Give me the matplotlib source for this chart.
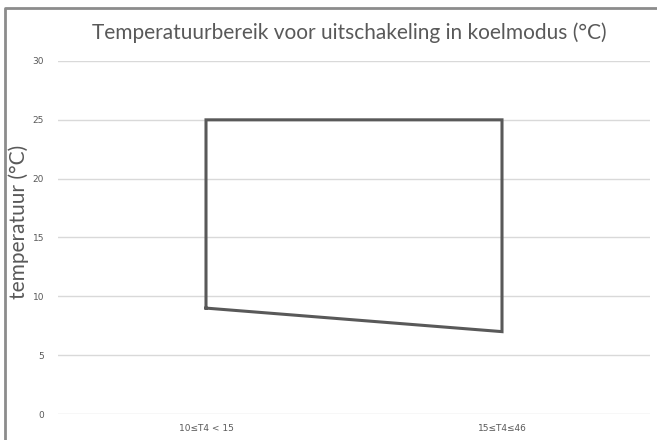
import matplotlib.pyplot as plt
from matplotlib.lines import Line2D

categories = ["10≤T4 < 15", "15≤T4≤46"]
upper = [25, 25]
lower = [9, 7]
yticks = [0, 5, 10, 15, 20, 25, 30]

fig = plt.figure(figsize=(6.57, 4.40), dpi=100)
ax = fig.add_axes([58 / 657, 1 - 414 / 440, 592 / 657, 353 / 440])

# closed outline: up the left category, across the top, down, back along the bottom
xs = [0, 0, 1, 1, 0]
ys = [lower[0], upper[0], upper[1], lower[1], lower[0]]
ax.plot(xs, ys, color="#595959", lw=2.2, solid_joinstyle="miter", zorder=3)

ax.set_xlim(-0.5, 1.5)
ax.set_ylim(0, 30)
ax.set_xticks(range(len(categories)))
ax.set_xticklabels(categories, fontsize=6.5, color="#595959")
ax.set_yticks(yticks)
ax.set_yticklabels([str(t) for t in yticks], fontsize=6.5, color="#595959")
ax.tick_params(length=0, pad=10)
ax.tick_params(axis="x", pad=7)
ax.grid(axis="y", color="#d9d9d9", lw=1)
ax.set_axisbelow(True)
for s in ax.spines.values():
    s.set_visible(False)

fig.text(19 / 657, 1 - 222 / 440, "temperatuur (°C)", rotation=90,
         ha="center", va="center", fontsize=15, color="#595959", family="Lato")
fig.text(0.531, 1 - 33 / 440, "Temperatuurbereik voor uitschakeling in koelmodus (°C)",
         ha="center", va="center", fontsize=15, color="#595959", family="Lato")

# chart frame (left and top edges)
fig.add_artist(Line2D([5 / 657, 5 / 657, 1], [0, 1 - 8 / 440, 1 - 8 / 440],
                      transform=fig.transFigure, color="#8c8c8c", lw=2))

fig.savefig("out.png", dpi=100)
